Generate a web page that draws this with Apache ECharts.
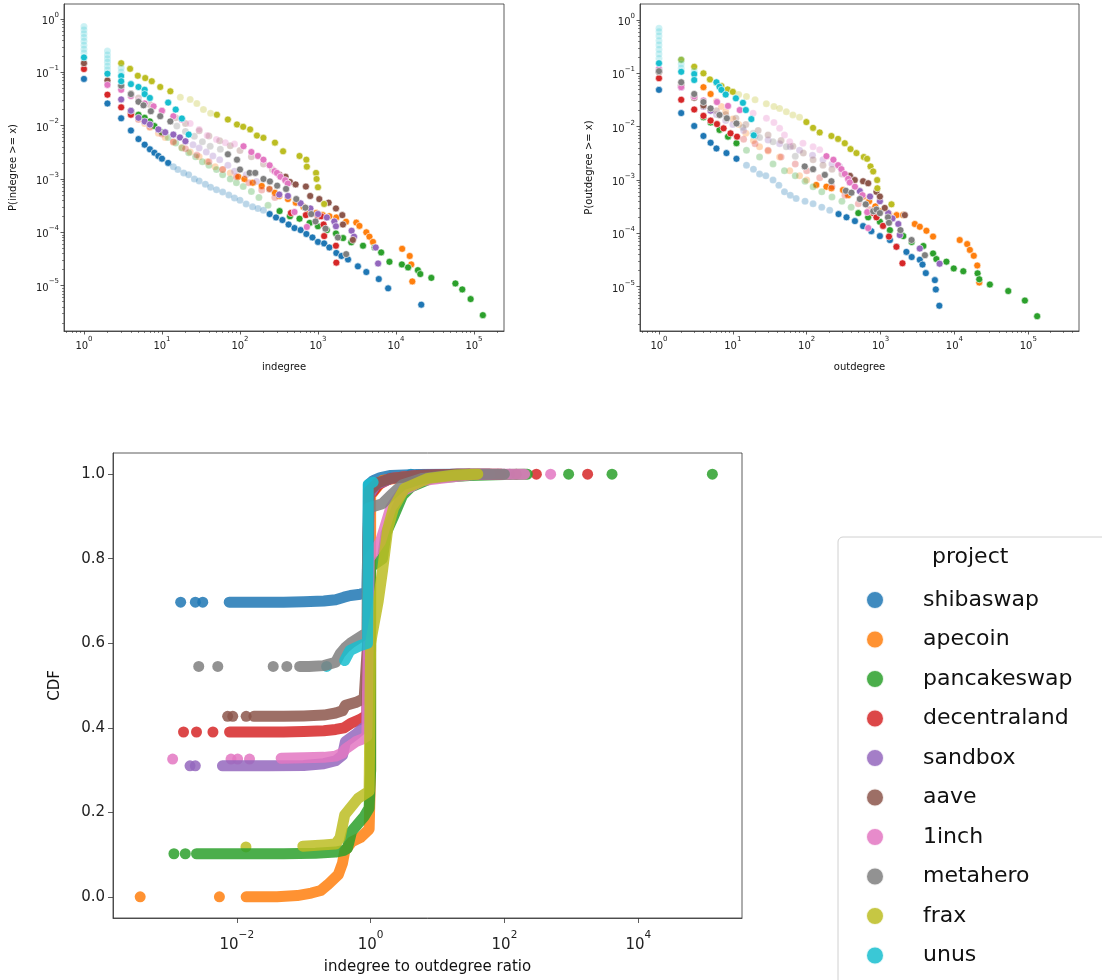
<!DOCTYPE html>
<html>
<head>
<meta charset="utf-8">
<script src="https://cdn.jsdelivr.net/npm/echarts@6/dist/echarts.min.js"></script>
<style>
  html, body { margin: 0; padding: 0; background: #fff; }
  #chart { width: 1102px; height: 980px; }
</style>
</head>
<body>
<div id="chart"></div>
<script>
const projects = ['shibaswap', 'apecoin', 'pancakeswap', 'decentraland', 'sandbox', 'aave', '1inch', 'metahero', 'frax', 'unus']
const colors = ['#1f77b4', '#ff7f0e', '#2ca02c', '#d62728', '#9467bd', '#8c564b', '#e377c2', '#7f7f7f', '#bcbd22', '#17becf']

// P(indegree >= x)
const in_shibaswap = [[1,0.075],[2,0.026],[3,0.0137],[4,0.0081],[5,0.0056],[6,0.0044],[7,0.0036],[8,0.0031],[9,0.0027],[10,0.0024],[12,0.002],[14,0.0017],[16,0.0015],[19,0.0013],[22,0.0012],[26,0.001],[30,0.00092],[36,0.0008],[42,0.0007],[50,0.00063],[60,0.00057],[72,0.0005],[85,0.00044],[100,0.0004],[120,0.00034],[145,0.0003],[170,0.00028],[200,0.00026],[240,0.00022],[290,0.00019],[350,0.00017],[420,0.00014],[500,0.00012],[600,0.00011],[710,0.000093],[850,0.00008],[1000,0.000066],[1200,0.000062],[1400,0.000052],[1720,0.000041],[2000,0.000036],[2430,0.000031],[3250,0.000023],[4170,0.000018],[6020,0.0000133],[7940,0.0000089],[21100,0.0000044]]
const in_apecoin = [[4,0.017],[5,0.0135],[6,0.011],[7,0.0092],[9,0.0072],[11,0.006],[14,0.0049],[18,0.0039],[23,0.0032],[30,0.0026],[38,0.0021],[48,0.0017],[60,0.0015],[75,0.0013],[95,0.0011],[114,0.001],[146,0.00085],[190,0.00074],[239,0.00065],[280,0.00055],[319,0.00048],[412,0.00042],[520,0.00036],[650,0.0003],[780,0.00025],[950,0.00023],[1150,0.00021],[1400,0.0002],[1720,0.00019],[2290,0.000158],[3100,0.000152],[3400,0.000132],[4170,0.0001],[4570,0.000083],[5070,0.000066],[12000,0.000049],[15000,0.000036],[15700,0.000025],[16200,0.000012]]
const in_pancakeswap = [[4,0.019],[5,0.016],[6,0.014],[7,0.012],[8,0.0098],[10,0.0075],[12,0.006],[15,0.0047],[18,0.0038],[22,0.0031],[27,0.0026],[33,0.0021],[40,0.0018],[50,0.0015],[60,0.0012],[75,0.001],[90,0.00085],[110,0.00072],[140,0.00058],[175,0.00045],[229,0.00032],[322,0.00025],[437,0.0002],[580,0.00018],[781,0.00015],[1000,0.00013],[1300,0.00011],[1700,0.000095],[2100,0.000078],[2670,0.000065],[3780,0.000056],[5330,0.000052],[6460,0.000042],[8250,0.000028],[11900,0.000025],[14300,0.000022],[19100,0.0000195],[20500,0.0000165],[28400,0.000014],[57800,0.000011],[70800,0.0000085],[90600,0.0000056],[130000,0.0000028]]
const in_decentraland = [[1,0.115],[2,0.038],[3,0.022],[4,0.016],[5,0.013],[7,0.0095],[10,0.007],[14,0.005],[20,0.0037],[28,0.0028],[40,0.0021],[60,0.0015],[90,0.0011],[130,0.00085],[190,0.00062],[280,0.00045],[450,0.00023],[700,0.00021],[1000,0.0002],[1100,0.0002],[1180,0.00014],[1200,0.000085],[1700,0.000056],[1720,0.000027]]
const in_sandbox = [[2,0.063],[3,0.031],[4,0.019],[5,0.014],[6,0.012],[7,0.0105],[9,0.0085],[11,0.0075],[14,0.0068],[17,0.006],[20,0.0051],[25,0.0044],[30,0.0038],[37,0.0032],[45,0.0027],[55,0.0023],[70,0.0018],[85,0.0014],[120,0.0012],[163,0.0009],[239,0.00064],[319,0.00051],[412,0.00048],[600,0.00035],[800,0.00028],[1000,0.00022],[1300,0.00019],[1620,0.00016],[1700,0.00013],[2700,0.000107],[2900,0.000083],[5500,0.000052],[5900,0.000026]]
const in_aave = [[1,0.148],[2,0.07],[3,0.056],[4,0.04],[5,0.033],[7,0.025],[10,0.019],[15,0.014],[20,0.011],[30,0.008],[40,0.0064],[55,0.0052],[75,0.0042],[100,0.0034],[140,0.0026],[200,0.0019],[260,0.0015],[320,0.0012],[384,0.0011],[437,0.00088],[517,0.00079],[700,0.00072],[795,0.00048],[1040,0.00042],[1370,0.00036],[1700,0.00028],[2050,0.00021],[2090,0.00014],[2800,0.000072]]
const in_1inch = [[2,0.058],[3,0.047],[4,0.036],[5,0.029],[6,0.026],[7.8,0.023],[10,0.019],[14,0.015],[18,0.013],[23,0.011],[30,0.0085],[38,0.0065],[50,0.0055],[65,0.0048],[85,0.0045],[111,0.0041],[140,0.0032],[170,0.0027],[200,0.0023],[240,0.0018],[278,0.0014],[298,0.0013],[330,0.0011],[380,0.00095],[410,0.00082],[500,0.00024],[720,0.000126]]
const in_metahero = [[3,0.056],[4,0.039],[5,0.028],[5.8,0.024],[7.2,0.0186],[9.5,0.015],[12.8,0.012],[15.5,0.0098],[20,0.0078],[26,0.0063],[33,0.005],[41.5,0.0041],[56,0.0036],[70,0.0029],[91.6,0.0023],[100,0.0015],[133,0.0013],[157,0.0013],[200,0.001],[242,0.0009],[300,0.00075],[390,0.00065],[527,0.00042],[690,0.00029],[820,0.00022],[930,0.00016],[1250,0.000117],[1800,0.00008],[2300,0.000039]]
const in_frax = [[3,0.148],[3.9,0.116],[4.9,0.086],[6.1,0.078],[7.4,0.068],[9.5,0.053],[12.8,0.044],[17.2,0.034],[23,0.031],[28,0.026],[34,0.02],[42,0.017],[50.6,0.016],[70,0.013],[91.6,0.0105],[110,0.0095],[135,0.0085],[165,0.0065],[200,0.0059],[281,0.0048],[357,0.0033],[580,0.0027],[710,0.0023],[720,0.0017],[945,0.0013],[960,0.001],[1000,0.0007],[1200,0.00034]]
const in_unus = [[1,0.19],[2,0.094],[3,0.085],[3,0.068],[4,0.06],[5,0.053],[6,0.047],[6,0.039],[7,0.033],[12,0.027],[15,0.02],[18,0.0136],[22,0.0068]]
const in_unus_faint = [[1,0.23],[1,0.27],[1,0.32],[1,0.38],[1,0.45],[1,0.53],[1,0.62],[1,0.72],[2,0.11],[2,0.13],[2,0.155],[2,0.18],[2,0.21],[2,0.25],[3,0.1],[3,0.12]]

// P(outdegree >= x)
const out_shibaswap = [[1,0.049],[2,0.018],[3,0.0103],[4,0.0067],[5,0.005],[6,0.0039],[8.2,0.0032],[11.2,0.0025],[15.3,0.0019],[19,0.0016],[23,0.0013],[28,0.0012],[35,0.001],[42,0.0008],[50,0.0006],[60,0.00052],[72,0.00045],[95,0.0004],[122,0.00036],[160,0.00031],[205,0.00027],[270,0.00023],[346,0.0002],[450,0.00017],[580,0.000137],[750,0.00011],[980,0.000089],[1340,0.000075],[1640,0.000056],[2240,0.000045],[2640,0.000036],[3400,0.000032],[3700,0.000026],[4100,0.000018],[5440,0.0000133],[5600,0.0000089],[6250,0.0000044]]
const out_apecoin = [[4,0.055],[5,0.041],[6,0.03],[7,0.024],[8,0.019],[10,0.014],[12,0.011],[15,0.0075],[19,0.0055],[23,0.0042],[30,0.0035],[43,0.0027],[59,0.0015],[80,0.0012],[100,0.001],[135,0.00081],[185,0.00075],[216,0.0007],[310,0.00065],[364,0.00052],[580,0.00049],[700,0.0004],[850,0.00032],[980,0.00026],[1300,0.00023],[1650,0.00022],[2020,0.00022],[2910,0.00015],[3400,0.000133],[4180,0.000112],[5140,0.000087],[11800,0.000075],[14900,0.000063],[16200,0.000049],[18300,0.000038],[20400,0.000025],[21700,0.000012]]
const out_pancakeswap = [[4,0.015],[5,0.012],[6.6,0.0087],[8.6,0.0065],[11.2,0.0049],[15.3,0.0036],[23,0.0027],[35,0.002],[50,0.0015],[70,0.0012],[95,0.00095],[122,0.00075],[160,0.0006],[220,0.00048],[300,0.0004],[400,0.00031],[500,0.00024],[680,0.0002],[980,0.000165],[1340,0.000115],[2030,0.000089],[2640,0.000069],[3800,0.000058],[5140,0.000042],[5700,0.000033],[7800,0.0000295],[9800,0.000022],[13200,0.0000195],[20600,0.0000178],[21700,0.0000138],[30200,0.000011],[53600,0.0000083],[90000,0.0000055],[132000,0.0000028]]
const out_decentraland = [[1,0.081],[2,0.032],[3,0.021],[4,0.016],[5,0.013],[6.1,0.0112],[7.5,0.0093],[9.3,0.0075],[11.4,0.0065],[14,0.0058],[20,0.0048],[30,0.0036],[45,0.0027],[70,0.002],[100,0.0015],[150,0.0011],[220,0.00075],[330,0.00052],[500,0.00036],[700,0.00028],[800,0.00024],[880,0.0002],[1080,0.000138],[1300,0.000087],[1640,0.000056],[1980,0.0000275]]
const out_sandbox = [[1,0.11],[2,0.055],[3,0.037],[4,0.024],[5,0.02],[6,0.017],[8,0.013],[10,0.011],[14,0.0085],[20,0.0068],[30,0.0056],[43,0.0048],[60,0.0042],[80,0.0036],[120,0.0029],[166,0.0024],[220,0.002],[280,0.0018],[400,0.0011],[524,0.00062],[720,0.00049],[980,0.0004],[1270,0.00024],[1450,0.00019],[1740,0.00015],[1820,0.000093],[3400,0.000052],[6300,0.000027]]
const out_aave = [[1,0.107],[2,0.06],[3,0.035],[4,0.025],[6,0.02],[8,0.017],[11,0.0144],[15,0.011],[22,0.0085],[30,0.007],[45,0.0055],[65,0.0043],[90,0.0032],[122,0.0024],[166,0.0019],[220,0.0016],[300,0.0013],[385,0.0012],[448,0.001],[580,0.00095],[680,0.00087],[880,0.0006],[980,0.00049],[1140,0.0003],[2130,0.00022]]
const out_1inch = [[1,0.12],[2,0.055],[3,0.037],[4,0.031],[6.1,0.029],[8.6,0.0245],[12.4,0.0205],[18.8,0.0178],[28.5,0.0144],[36,0.012],[43,0.0093],[50,0.007],[59,0.0052],[89,0.0049],[122,0.0042],[150,0.0037],[185,0.0028],[230,0.0024],[266,0.0019],[295,0.0016],[328,0.0013],[364,0.00105],[383,0.0009],[450,0.00075],[569,0.00052],[660,0.00025],[680,0.000126]]
const out_metahero = [[1,0.11],[2,0.068],[3,0.041],[4,0.029],[5,0.022],[6.6,0.0166],[8.3,0.0144],[11.2,0.0115],[13.7,0.0097],[18.8,0.0075],[23,0.0063],[35,0.0052],[53,0.0042],[70,0.0028],[94,0.0018],[122,0.0016],[176,0.00125],[216,0.00095],[339,0.00063],[404,0.00058],[524,0.00044],[630,0.00035],[795,0.00026],[880,0.00028],[980,0.00024],[1260,0.0002],[1300,0.000158],[1860,0.000115],[2630,0.000075],[3990,0.000039]]
const out_frax = [[2,0.18],[3,0.133],[4,0.1],[4.9,0.077],[6,0.067],[7,0.058],[8.5,0.05],[10,0.045],[12,0.04],[15.3,0.037],[20,0.032],[28.4,0.027],[36,0.024],[43,0.022],[53,0.019],[65,0.0166],[80,0.015],[99,0.0122],[122,0.0095],[150,0.0078],[216,0.0067],[266,0.0059],[328,0.0049],[392,0.0038],[472,0.0032],[593,0.0027],[658,0.0025],[731,0.0018],[795,0.00145],[900,0.001],[905,0.0007],[1406,0.00035]]
const out_unus = [[1,0.155],[2,0.107],[3,0.097],[3,0.075],[6,0.068],[6.6,0.056],[7,0.049],[8,0.04],[11,0.034],[13.7,0.028],[15,0.0205],[17.8,0.0139],[19.2,0.0069]]
const out_unus_faint = [[1,0.19],[1,0.23],[1,0.28],[1,0.34],[1,0.41],[1,0.5],[1,0.6],[1,0.7],[2,0.125],[2,0.15],[2,0.18],[3,0.11]]

// CDF of indegree / outdegree ratio: lone dots, and dense runs of dots
const ratio_shibaswap_dots = [[0.00145,0.697],[0.0024,0.697],[0.0031,0.697]]
const ratio_shibaswap_run = [[0.0077,0.697],[0.02,0.697],[0.05,0.697],[0.1,0.698],[0.2,0.7],[0.3,0.703],[0.4,0.709],[0.5,0.713],[0.7,0.716],[0.88,0.72],[0.9,0.8],[0.92,0.9],[0.93,0.975],[1.1,0.985],[1.4,0.992],[2,0.997],[5,0.999],[20,1],[30,1]]
const ratio_apecoin_dots = [[0.00036,0],[0.0055,0]]
const ratio_apecoin_run = [[0.0138,0],[0.04,0],[0.08,0.003],[0.13,0.009],[0.18,0.015],[0.23,0.029],[0.33,0.053],[0.38,0.08],[0.41,0.108],[0.52,0.13],[0.7,0.14],[0.95,0.16],[1,0.3],[1,0.95],[1.5,0.985],[3,0.993],[10,0.997],[30,1]]
const ratio_pancakeswap_dots = [[0.00115,0.102],[0.0017,0.102],[910,1],[4050,1],[128000,1]]
const ratio_pancakeswap_run = [[0.0025,0.102],[0.01,0.102],[0.05,0.102],[0.15,0.103],[0.3,0.106],[0.4,0.11],[0.45,0.115],[0.52,0.155],[0.8,0.19],[0.95,0.21],[1,0.3],[1,0.78],[1.5,0.8],[1.7,0.86],[2.2,0.9],[3,0.95],[4,0.97],[8,0.99],[30,0.997],[100,0.999],[220,1]]
const ratio_decentraland_dots = [[0.0016,0.39],[0.0025,0.39],[0.0044,0.39],[300,1],[1750,1]]
const ratio_decentraland_run = [[0.0078,0.39],[0.02,0.39],[0.05,0.39],[0.1,0.391],[0.2,0.393],[0.3,0.396],[0.4,0.4],[0.5,0.41],[0.7,0.42],[0.88,0.43],[0.9,0.6],[0.92,0.85],[0.95,0.95],[1.1,0.96],[1.3,0.975],[2,0.99],[5,0.997],[20,1],[90,1]]
const ratio_sandbox_dots = [[0.002,0.31],[0.0024,0.31],[80,1],[120,1]]
const ratio_sandbox_run = [[0.0061,0.31],[0.01,0.31],[0.03,0.31],[0.1,0.311],[0.2,0.315],[0.3,0.322],[0.38,0.335],[0.42,0.367],[0.6,0.385],[0.75,0.398],[0.88,0.405],[0.92,0.7],[0.95,0.95],[1.2,0.975],[2,0.99],[5,0.997],[20,1],[60,1]]
const ratio_aave_dots = [[0.0073,0.427],[0.0087,0.427],[0.0138,0.427],[150,1]]
const ratio_aave_run = [[0.018,0.427],[0.05,0.427],[0.1,0.428],[0.2,0.43],[0.3,0.435],[0.38,0.44],[0.42,0.453],[0.6,0.46],[0.8,0.469],[0.9,0.6],[0.93,0.9],[0.95,0.96],[1.3,0.98],[2,0.99],[5,0.997],[20,1],[60,1]]
const ratio_1inch_dots = [[0.0011,0.326],[0.0082,0.326],[0.0103,0.326],[0.0155,0.326],[490,1]]
const ratio_1inch_run = [[0.046,0.328],[0.1,0.329],[0.2,0.33],[0.3,0.333],[0.38,0.34],[0.42,0.35],[0.6,0.367],[0.75,0.373],[0.88,0.38],[0.92,0.6],[0.95,0.8],[1.4,0.84],[1.6,0.87],[2,0.92],[3,0.96],[6,0.985],[20,0.995],[40,1],[200,1]]
const ratio_metahero_dots = [[0.0027,0.545],[0.0052,0.545],[0.035,0.545],[0.056,0.545]]
const ratio_metahero_run = [[0.087,0.545],[0.12,0.545],[0.2,0.547],[0.3,0.555],[0.35,0.575],[0.42,0.59],[0.5,0.6],[0.7,0.615],[0.88,0.625],[0.9,0.8],[0.93,0.92],[1.5,0.93],[2,0.95],[3,0.975],[6,0.99],[15,0.997],[30,1],[100,1]]
const ratio_frax_dots = [[0.0137,0.118],[63,1]]
const ratio_frax_run = [[0.097,0.12],[0.2,0.123],[0.3,0.125],[0.35,0.14],[0.41,0.194],[0.65,0.233],[0.95,0.25],[1,0.6],[1.05,0.62],[1.3,0.7],[1.5,0.77],[1.8,0.87],[2.2,0.92],[3.2,0.966],[7.2,0.99],[18.6,0.998],[40,1]]
const ratio_unus_dots = [[0.22,0.545],[1.94,0.991],[4.0,1]]
const ratio_unus_run = [[0.41,0.559],[0.49,0.583],[0.69,0.594],[0.9,0.6],[0.92,0.8],[0.92,0.975],[1.09,0.981]]

const degreeTicks = [1, 10, 100, 1000, 10000, 100000]
const probTicks = [1e-5, 1e-4, 1e-3, 1e-2, 1e-1, 1]
const ratioTicks = [0.01, 1, 100, 10000]
const cdfTicks = [0, 0.2, 0.4, 0.6, 0.8, 1.0]

const inData = { shibaswap: in_shibaswap, apecoin: in_apecoin, pancakeswap: in_pancakeswap, decentraland: in_decentraland, sandbox: in_sandbox, aave: in_aave, '1inch': in_1inch, metahero: in_metahero, frax: in_frax, unus: in_unus }
const outData = { shibaswap: out_shibaswap, apecoin: out_apecoin, pancakeswap: out_pancakeswap, decentraland: out_decentraland, sandbox: out_sandbox, aave: out_aave, '1inch': out_1inch, metahero: out_metahero, frax: out_frax, unus: out_unus }
const ratioDots = { shibaswap: ratio_shibaswap_dots, apecoin: ratio_apecoin_dots, pancakeswap: ratio_pancakeswap_dots, decentraland: ratio_decentraland_dots, sandbox: ratio_sandbox_dots, aave: ratio_aave_dots, '1inch': ratio_1inch_dots, metahero: ratio_metahero_dots, frax: ratio_frax_dots, unus: ratio_unus_dots }
const ratioRun = { shibaswap: ratio_shibaswap_run, apecoin: ratio_apecoin_run, pancakeswap: ratio_pancakeswap_run, decentraland: ratio_decentraland_run, sandbox: ratio_sandbox_run, aave: ratio_aave_run, '1inch': ratio_1inch_run, metahero: ratio_metahero_run, frax: ratio_frax_run, unus: ratio_unus_run }

// x ranges where the dense dots look washed out in the original
const fadeIn = { shibaswap: [14, 230], apecoin: [5, 90], pancakeswap: [12, 300], decentraland: [5, 400], sandbox: [25, 250], aave: [3.5, 300], '1inch': [22, 110], metahero: [15, 60], frax: [14, 45] }
const fadeOut = { shibaswap: [15, 250], apecoin: [6, 120], pancakeswap: [12, 400], decentraland: [12, 700], sandbox: [6, 500], aave: [6, 300], '1inch': [17, 150], metahero: [12, 70], frax: [12, 80] }

const FONT = 'DejaVu Sans'
const INK = '#222'

function pow10Label(size) {
  return {
    color: INK,
    formatter: v => {
      const e = Math.round(Math.log10(v))
      return '{b|10}{s|' + (e < 0 ? '\u2212' + (-e) : e) + '}'
    },
    rich: {
      b: { fontSize: size, lineHeight: size * 1.5, verticalAlign: 'bottom', fontFamily: FONT, color: INK },
      s: { fontSize: size * 0.7, lineHeight: size * 0.85, verticalAlign: 'top', fontFamily: FONT, color: INK }
    }
  }
}

function minorValues(lo, hi) {
  const out = []
  for (let d = lo; d <= hi; d++) {
    for (let k = 2; k <= 9; k++) out.push(k * Math.pow(10, d))
  }
  return out
}

const axisLine = { show: true, onZero: false, lineStyle: { color: '#333', width: 0.8 } }

function logAxis(grid, min, max, ticks, name, nameGap, size, extra) {
  return Object.assign({
    type: 'log', gridIndex: grid, min: min, max: max,
    name: name, nameLocation: 'middle', nameGap: nameGap,
    nameTextStyle: { fontSize: size, color: '#111', fontFamily: FONT },
    axisLine: axisLine,
    axisTick: { show: true, length: size > 12 ? 5 : 3.5, lineStyle: { color: '#333', width: 0.8 }, customValues: ticks },
    axisLabel: Object.assign(pow10Label(size), { customValues: ticks }),
    splitLine: { show: false }
  }, extra || {})
}

function minorAxis(grid, min, max, ticks, position) {
  return {
    type: 'log', gridIndex: grid, min: min, max: max, position: position,
    axisLine: { show: false },
    axisTick: { show: true, length: 2, lineStyle: { color: '#333', width: 0.6 }, customValues: ticks },
    axisLabel: { show: false },
    splitLine: { show: false }
  }
}

const topX = [Math.pow(10, -0.256), Math.pow(10, 5.385)]
const topY = [Math.pow(10, -5.85), Math.pow(10, 0.28)]
const top2X = [Math.pow(10, -0.257), Math.pow(10, 5.687)]
const top2Y = [Math.pow(10, -5.83), Math.pow(10, 0.3)]
const botX = [Math.pow(10, -3.85), Math.pow(10, 5.55)]

function degreeSeries(table, faint, fade, xi, yi) {
  const list = []
  projects.forEach((p, i) => {
    if (p === 'unus') {
      list.push({
        name: p, type: 'scatter', xAxisIndex: xi, yAxisIndex: yi, symbolSize: 7,
        itemStyle: { color: colors[i], borderColor: '#fff', borderWidth: 0.6, opacity: 0.22 },
        data: faint
      })
    }
    const r = fade[p]
    list.push({
      name: p, type: 'scatter', xAxisIndex: xi, yAxisIndex: yi, symbolSize: 7,
      itemStyle: { color: colors[i], borderColor: '#fff', borderWidth: 0.6 },
      data: table[p].map(pt => ({
        value: pt,
        itemStyle: { opacity: r && pt[0] >= r[0] && pt[0] <= r[1] ? 0.3 : 1 }
      }))
    })
  })
  return list
}

const series = []
  .concat(degreeSeries(inData, in_unus_faint, fadeIn, 0, 0))
  .concat(degreeSeries(outData, out_unus_faint, fadeOut, 2, 2))

projects.forEach((p, i) => {
  series.push({
    name: p, type: 'line', xAxisIndex: 4, yAxisIndex: 4,
    data: ratioRun[p], showSymbol: false, symbol: 'none',
    lineStyle: { color: colors[i], width: 11, cap: 'round', join: 'round', opacity: 0.85 },
    itemStyle: { color: colors[i] }
  })
  series.push({
    name: p, type: 'scatter', xAxisIndex: 4, yAxisIndex: 4,
    data: ratioDots[p], symbolSize: 11,
    itemStyle: { color: colors[i], opacity: 0.85 }
  })
})

const chart = echarts.init(document.getElementById('chart'))
chart.setOption({
  animation: false,
  backgroundColor: '#fff',
  textStyle: { fontFamily: FONT },
  grid: [
    { left: 64, right: 598, top: 4, bottom: 649, show: true, borderColor: '#333', borderWidth: 0.8 },
    { left: 640, right: 23, top: 4, bottom: 649, show: true, borderColor: '#333', borderWidth: 0.8 },
    { left: 113, right: 360, top: 453, bottom: 62, show: true, borderColor: '#333', borderWidth: 0.8 }
  ],
  xAxis: [
    logAxis(0, topX[0], topX[1], degreeTicks, 'indegree', 31, 10, { position: 'bottom', axisLabel: Object.assign(pow10Label(10), { customValues: degreeTicks, margin: 5 }) }),
    minorAxis(0, topX[0], topX[1], minorValues(-1, 5), 'bottom'),
    logAxis(1, top2X[0], top2X[1], degreeTicks, 'outdegree', 31, 10, { position: 'bottom', axisLabel: Object.assign(pow10Label(10), { customValues: degreeTicks, margin: 5 }) }),
    minorAxis(1, top2X[0], top2X[1], minorValues(-1, 5), 'bottom'),
    logAxis(2, botX[0], botX[1], ratioTicks, 'indegree to outdegree ratio', 42, 15, { position: 'bottom', axisLabel: Object.assign(pow10Label(15), { customValues: ratioTicks, margin: 12 }) })
  ],
  yAxis: [
    logAxis(0, topY[0], topY[1], probTicks, 'P(indegree >= x)', 46, 10, { position: 'left', axisLabel: Object.assign(pow10Label(10), { customValues: probTicks, margin: 5 }) }),
    minorAxis(0, topY[0], topY[1], minorValues(-6, 0), 'left'),
    logAxis(1, top2Y[0], top2Y[1], probTicks, 'P(outdegree >= x)', 46, 10, { position: 'left', axisLabel: Object.assign(pow10Label(10), { customValues: probTicks, margin: 5 }) }),
    minorAxis(1, top2Y[0], top2Y[1], minorValues(-6, 0), 'left'),
    {
      type: 'value', gridIndex: 2, min: -0.05, max: 1.05, position: 'left',
      name: 'CDF', nameLocation: 'middle', nameGap: 50,
      nameTextStyle: { fontSize: 15, color: '#111', fontFamily: FONT },
      axisLine: axisLine,
      axisTick: { show: true, length: 5, lineStyle: { color: '#333', width: 0.8 }, customValues: cdfTicks },
      axisLabel: { fontSize: 15, color: INK, margin: 8, customValues: cdfTicks, formatter: v => v.toFixed(1) },
      splitLine: { show: false }
    }
  ],
  legend: {
    orient: 'vertical', left: 838, top: 537, height: 420,
    padding: [51, 60, 40, 27],
    itemWidth: 18, itemHeight: 18, itemGap: 15.5,
    borderColor: '#d0d0d0', borderWidth: 1, borderRadius: 5,
    backgroundColor: '#fff',
    textStyle: { fontSize: 22, color: '#111', lineHeight: 24, fontFamily: FONT, padding: [0, 0, 0, 34] },
    data: projects.map((p, i) => ({ name: p, icon: 'circle', itemStyle: { color: colors[i], opacity: 0.85 } }))
  },
  graphic: [
    { type: 'text', left: 932, top: 546, z: 100, style: { text: 'project', fontSize: 22, fill: '#111', fontFamily: FONT } }
  ],
  series: series
})
</script>
</body>
</html>
